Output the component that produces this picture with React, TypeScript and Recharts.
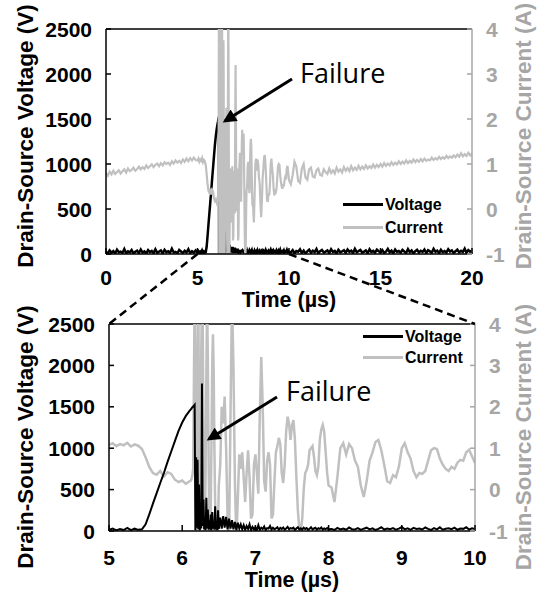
import { LineChart, Line, XAxis, YAxis, ReferenceLine, Legend } from 'recharts'

const FONT = '"Liberation Sans", Arial, Helvetica, sans-serif'
const VOLT_COLOR = '#000000'
const CURR_COLOR = '#c0c0c0'
const CURR_TEXT = '#a6a6a6'

// ---- waveform samples (time in µs, V, A) ----

// before turn-off, 0 - 4.9 µs
const timeA = [
  0, 0.1, 0.2, 0.3, 0.4, 0.5, 0.6, 0.7, 0.8, 0.9,
  1, 1.1, 1.2, 1.3, 1.4, 1.5, 1.6, 1.7, 1.8, 1.9,
  2, 2.1, 2.2, 2.3, 2.4, 2.5, 2.6, 2.7, 2.8, 2.9,
  3, 3.1, 3.2, 3.3, 3.4, 3.5, 3.6, 3.7, 3.8, 3.9,
  4, 4.1, 4.2, 4.3, 4.4, 4.5, 4.6, 4.7, 4.8, 4.9,
]
const voltA = [
  22, 8, 41, 15, 33, 5, 48, 19, 27, 12,
  55, 9, 30, 18, 44, 6, 25, 37, 11, 50,
  16, 29, 7, 43, 21, 34, 10, 52, 14, 26,
  39, 8, 47, 20, 31, 13, 58, 17, 24, 6,
  45, 28, 11, 36, 19, 53, 9, 32, 15, 40,
]
const currA = [
  0.8, 0.74, 0.83, 0.77, 0.85, 0.78, 0.82, 0.86, 0.79, 0.84,
  0.88, 0.81, 0.9, 0.84, 0.87, 0.92, 0.85, 0.89, 0.94, 0.88,
  0.93, 0.89, 0.97, 0.91, 0.95, 0.99, 0.93, 0.98, 1.01, 0.95,
  1.02, 0.97, 1.04, 1.0, 1.03, 0.98, 1.06, 1.01, 1.08, 1.03,
  1.07, 1.02, 1.1, 1.05, 1.12, 1.06, 1.13, 1.08, 1.14, 1.09,
]

// voltage ramp, 5.00 - 6.10 µs
const timeB = [
  5, 5.05, 5.1, 5.15, 5.2, 5.25, 5.3, 5.35, 5.4, 5.45,
  5.5, 5.55, 5.6, 5.65, 5.7, 5.75, 5.8, 5.85, 5.9, 5.95,
  6, 6.05, 6.1,
]
const voltB = [
  15, 30, 8, 25, 12, 38, 10, 28, 14, 20,
  80, 200, 330, 455, 580, 700, 835, 960, 1085, 1210,
  1310, 1390, 1450,
]
const currB = [
  1.08, 1.12, 1.05, 1.1, 1.07, 1.13, 1.04, 1.09, 1.06, 0.98,
  0.78, 0.55, 0.4, 0.36, 0.45, 0.32, 0.42, 0.38, 0.24, 0.18,
  0.22, 0.14, 0.2,
]

// failure, 6.12 - 6.50 µs
const timeC = [
  6.12, 6.13, 6.14, 6.15, 6.16, 6.17, 6.18, 6.19, 6.2, 6.21,
  6.22, 6.23, 6.24, 6.25, 6.26, 6.27, 6.28, 6.29, 6.3, 6.31,
  6.32, 6.33, 6.34, 6.35, 6.36, 6.37, 6.38, 6.39, 6.4, 6.41,
  6.42, 6.43, 6.44, 6.45, 6.46, 6.47, 6.48, 6.49, 6.5,
]
const voltC = [
  1470, 1485, 1495, 1505, 1515, 1525, 10, 890, 40, 860,
  20, 560, 10, 120, 30, 1780, 60, 380, 20, 150,
  10, 400, 30, 260, 15, 130, 20, 200, 10, 230,
  30, 110, 15, 300, 20, 120, 10, 250, 25,
]
const currC = [
  0.22, 0.28, 0.36, 0.5, 2.6, 4.8, 2.2, -1.3, 0.8, 3.6,
  4.8, 1.5, -1.3, -0.2, 3.2, 4.8, 4.2, 1.2, -0.8, -1.3,
  0.6, 2.8, 4.6, 3.2, 0.9, -0.9, -1.3, -0.6, 1.2, 3.0,
  3.75, 2.9, 1.0, -0.3, -0.9, -1.3, -1.3, -0.8, 0.1,
]

// ringing, 6.52 - 8.00 µs
const timeD = [
  6.52, 6.54, 6.56, 6.58, 6.6, 6.62, 6.64, 6.66, 6.68, 6.7,
  6.72, 6.74, 6.76, 6.78, 6.8, 6.82, 6.84, 6.86, 6.88, 6.9,
  6.92, 6.94, 6.96, 6.98, 7, 7.02, 7.04, 7.06, 7.08, 7.1,
  7.12, 7.14, 7.16, 7.18, 7.2, 7.22, 7.24, 7.26, 7.28, 7.3,
  7.32, 7.34, 7.36, 7.38, 7.4, 7.42, 7.44, 7.46, 7.48, 7.5,
  7.52, 7.54, 7.56, 7.58, 7.6, 7.62, 7.64, 7.66, 7.68, 7.7,
  7.72, 7.74, 7.76, 7.78, 7.8, 7.82, 7.84, 7.86, 7.88, 7.9,
  7.92, 7.94, 7.96, 7.98, 8,
]
const voltD = [
  160, 30, 180, 40, 170, 20, 150, 30, 130, 20,
  110, 15, 100, 30, 80, 20, 70, 15, 60, 25,
  80, 10, 50, 20, 45, 10, 70, 15, 40, 25,
  55, 12, 35, 30, 60, 18, 40, 22, 30, 45,
  15, 38, 25, 42, 18, 30, 50, 20, 35, 28,
  40, 12, 30, 45, 20, 32, 18, 40, 25, 35,
  15, 28, 45, 20, 30, 38, 16, 33, 25, 42,
  18, 30, 22, 36, 20,
]
const currD = [
  0.6, 2.0, 1.6, 2.25, 1.0, -0.7, -1.3, 1.8, 4.6, 3.0,
  0.2, -1.2, -0.2, 0.85, 0.5, 0.9, 0.3, -0.3, 0.4, 0.95,
  0.3, -0.7, -0.6, 0.6, 0.85, 0.4, -0.1, 1.8, 3.2, 2.0,
  0.2, -0.05, 0.7, 0.9, 0.6, -0.7, -0.6, 0.2, 0.9, 1.05,
  1.25, 1.1, 0.4, 0.16, 0.6, 1.4, 1.76, 1.6, 1.2, 1.55,
  1.68, 1.2, 0.3, -0.5, -0.95, -1.0, -0.7, 0.0, 0.4, 0.47,
  0.6, 0.95, 1.0, 1.05, 0.8, 0.45, 0.35, 0.55, 1.2, 1.45,
  1.56, 1.4, 0.9, 0.4, 0.1,
]

// decaying ringing, 8.04 - 10.00 µs
const timeE = [
  8.04, 8.08, 8.12, 8.16, 8.2, 8.24, 8.28, 8.32, 8.36, 8.4,
  8.44, 8.48, 8.52, 8.56, 8.6, 8.64, 8.68, 8.72, 8.76, 8.8,
  8.84, 8.88, 8.92, 8.96, 9, 9.04, 9.08, 9.12, 9.16, 9.2,
  9.24, 9.28, 9.32, 9.36, 9.4, 9.44, 9.48, 9.52, 9.56, 9.6,
  9.64, 9.68, 9.72, 9.76, 9.8, 9.84, 9.88, 9.92, 9.96, 10,
]
const voltE = [
  25, 12, 38, 20, 30, 15, 42, 22, 18, 35,
  14, 28, 40, 20, 33, 12, 26, 45, 18, 30,
  22, 36, 15, 28, 48, 20, 32, 14, 38, 24,
  30, 18, 42, 25, 12, 36, 20, 44, 16, 28,
  34, 22, 40, 15, 30, 26, 45, 18, 32, 24,
]
const currE = [
  0.05, -0.3, 0.3, 1.0, 1.12, 0.85, 1.1, 1.0, 0.7, 0.55,
  0.1, -0.18, 0.2, 0.7, 0.9, 1.15, 1.2, 0.95, 0.6, 0.2,
  0.16, 0.35, 0.3, 0.55, 1.0, 1.12, 0.9, 0.75, 0.45, 0.3,
  0.4, 0.38, 0.45, 0.7, 0.95, 1.0, 0.98, 0.75, 0.6, 0.5,
  0.45, 0.55, 0.5, 0.65, 0.72, 0.7, 0.9, 0.96, 0.8, 0.64,
]

// tail, 10.1 - 20.0 µs
const timeF = [
  10.1, 10.2, 10.3, 10.4, 10.5, 10.6, 10.7, 10.8, 10.9, 11,
  11.1, 11.2, 11.3, 11.4, 11.5, 11.6, 11.7, 11.8, 11.9, 12,
  12.1, 12.2, 12.3, 12.4, 12.5, 12.6, 12.7, 12.8, 12.9, 13,
  13.1, 13.2, 13.3, 13.4, 13.5, 13.6, 13.7, 13.8, 13.9, 14,
  14.1, 14.2, 14.3, 14.4, 14.5, 14.6, 14.7, 14.8, 14.9, 15,
  15.1, 15.2, 15.3, 15.4, 15.5, 15.6, 15.7, 15.8, 15.9, 16,
  16.1, 16.2, 16.3, 16.4, 16.5, 16.6, 16.7, 16.8, 16.9, 17,
  17.1, 17.2, 17.3, 17.4, 17.5, 17.6, 17.7, 17.8, 17.9, 18,
  18.1, 18.2, 18.3, 18.4, 18.5, 18.6, 18.7, 18.8, 18.9, 19,
  19.1, 19.2, 19.3, 19.4, 19.5, 19.6, 19.7, 19.8, 19.9, 20,
]
const voltF = [
  18, 42, 9, 33, 25, 51, 12, 38, 6, 29,
  47, 15, 36, 21, 55, 8, 31, 44, 17, 26,
  39, 11, 53, 23, 34, 7, 46, 19, 28, 41,
  13, 50, 24, 37, 10, 58, 20, 32, 45, 16,
  27, 40, 9, 52, 22, 35, 14, 48, 30, 18,
  43, 11, 26, 56, 19, 37, 8, 49, 24, 33,
  15, 45, 28, 12, 54, 21, 39, 6, 31, 47,
  17, 36, 23, 50, 10, 42, 29, 14, 57, 25,
  38, 9, 46, 20, 33, 16, 53, 27, 40, 12,
  30, 48, 18, 35, 22, 59, 13, 44, 26, 37,
]
const currF = [
  0.55, 0.75, 1.05, 0.95, 0.62, 0.58, 0.9, 1.0, 0.7, 0.65,
  0.88, 0.92, 0.72, 0.7, 0.86, 0.9, 0.76, 0.74, 0.88, 0.82,
  0.78, 0.9, 0.8, 0.86, 0.79, 0.92, 0.83, 0.88, 0.81, 0.93,
  0.85, 0.91, 0.84, 0.95, 0.86, 0.92, 0.87, 0.96, 0.88, 0.94,
  0.89, 0.97, 0.9, 0.95, 0.91, 0.99, 0.92, 0.98, 0.93, 1.0,
  0.94, 1.02, 0.96, 1.01, 0.97, 1.04, 0.98, 1.03, 0.99, 1.06,
  1.0, 1.05, 1.01, 1.08, 1.02, 1.07, 1.03, 1.1, 1.04, 1.09,
  1.05, 1.11, 1.06, 1.12, 1.07, 1.1, 1.08, 1.14, 1.09, 1.13,
  1.1, 1.16, 1.11, 1.15, 1.12, 1.18, 1.13, 1.17, 1.14, 1.19,
  1.15, 1.21, 1.16, 1.24, 1.17, 1.22, 1.18, 1.25, 1.19, 1.23,
]

// axis ticks
const voltTicks = [0, 500, 1000, 1500, 2000, 2500]
const currTicks = [-1, 0, 1, 2, 3, 4]
const fullTimeTicks = [0, 5, 10, 15, 20]
const zoomTimeTicks = [5, 6, 7, 8, 9, 10]
const legendOrder = ['Voltage', 'Current']

type Row = { t: number; v: number; i: number }

const segments: [number[], number[], number[]][] = [
  [timeA, voltA, currA],
  [timeB, voltB, currB],
  [timeC, voltC, currC],
  [timeD, voltD, currD],
  [timeE, voltE, currE],
  [timeF, voltF, currF],
]
const rows: Row[] = segments.flatMap(([ts, vs, is]) =>
  ts.map((t, k) => ({ t, v: vs[k], i: is[k] }))
)
const zoomRows = rows.filter((r) => r.t >= 5 && r.t <= 10)

// page layout (px)
const W = 543
const H = 593
const TOP_PLOT = { left: 106, right: 472, top: 29, bottom: 254 }
const BOT_PLOT = { left: 109, right: 475, top: 324, bottom: 531 }
const TOP_DIV = { top: 0, height: 300 }
const BOT_DIV = { top: 290, height: 303 }

const tickFont = { fontFamily: FONT, fontSize: 21, fontWeight: 700 }

type Plot = typeof TOP_PLOT

interface PanelProps {
  data: Row[]
  plot: Plot
  div: { top: number; height: number }
  xDomain: [number, number]
  xTicks: number[]
  tickGap: number
  legendLeft: number
  legendTop: number
  legendRow: number
  voltWidth: number
  currWidth: number
  currentOnTop: boolean
}

function LegendBox({ payload, rowH }: { payload?: any[]; rowH: number }) {
  const items = [...(payload ?? [])].sort(
    (a, b) => legendOrder.indexOf(a.value) - legendOrder.indexOf(b.value)
  )
  return (
    <div style={{ fontFamily: FONT, fontSize: 16, fontWeight: 700, color: '#000' }}>
      {items.map((it) => (
        <div key={it.value} style={{ display: 'flex', alignItems: 'center', height: rowH }}>
          <span
            style={{
              display: 'inline-block',
              width: 40,
              height: it.value === 'Voltage' ? 3 : 2.5,
              background: it.color,
              marginRight: 2,
            }}
          />
          <span>{it.value}</span>
        </div>
      ))}
    </div>
  )
}

function Panel({
  data, plot, div, xDomain, xTicks, tickGap,
  legendLeft, legendTop, legendRow, voltWidth, currWidth, currentOnTop,
}: PanelProps) {
  const localTop = plot.top - div.top
  const localBottom = plot.bottom - div.top

  const xTick = ({ x, payload }: any) => (
    <g>
      <line x1={x} x2={x} y1={localBottom} y2={localBottom - 6} stroke="#000" strokeWidth={1.5} />
      <text x={x} y={localBottom + tickGap} textAnchor="middle" dominantBaseline="central" fill="#000" style={tickFont}>
        {payload.value}
      </text>
    </g>
  )
  const vTick = ({ y, payload }: any) => (
    <g>
      <line x1={plot.left} x2={plot.left + 5} y1={y} y2={y} stroke="#000" strokeWidth={1.5} />
      <text x={plot.left - 14} y={y} textAnchor="end" dominantBaseline="central" fill="#000" style={tickFont}>
        {payload.value}
      </text>
    </g>
  )
  const iTick = ({ y, payload }: any) => (
    <g>
      <line x1={plot.right - 5} x2={plot.right} y1={y} y2={y} stroke={CURR_TEXT} strokeWidth={1.5} />
      <text x={plot.right + 14} y={y} textAnchor="start" dominantBaseline="central" fill={CURR_TEXT} style={tickFont}>
        {payload.value}
      </text>
    </g>
  )

  const currentLine = (
    <Line
      key="current"
      yAxisId="i"
      dataKey="i"
      name="Current"
      type="linear"
      stroke={CURR_COLOR}
      strokeWidth={currWidth}
      dot={false}
      isAnimationActive={false}
    />
  )
  const voltageLine = (
    <Line
      key="voltage"
      yAxisId="v"
      dataKey="v"
      name="Voltage"
      type="linear"
      stroke={VOLT_COLOR}
      strokeWidth={voltWidth}
      dot={false}
      isAnimationActive={false}
    />
  )

  return (
    <div style={{ position: 'absolute', left: 0, top: div.top, width: W, height: div.height }}>
      <LineChart
        width={W}
        height={div.height}
        data={data}
        margin={{ top: localTop, right: 0, bottom: 0, left: 0 }}
      >
        <XAxis
          dataKey="t"
          type="number"
          domain={xDomain}
          ticks={xTicks}
          allowDataOverflow
          height={div.height - localBottom}
          axisLine={{ stroke: '#000', strokeWidth: 1.5 }}
          tickLine={false}
          tick={xTick}
          interval={0}
        />
        <YAxis
          yAxisId="v"
          orientation="left"
          domain={[0, 2500]}
          ticks={voltTicks}
          allowDataOverflow
          width={plot.left}
          axisLine={{ stroke: '#000', strokeWidth: 1.5 }}
          tickLine={false}
          tick={vTick}
          interval={0}
        />
        <YAxis
          yAxisId="i"
          orientation="right"
          domain={[-1, 4]}
          ticks={currTicks}
          allowDataOverflow
          width={W - plot.right}
          axisLine={{ stroke: CURR_TEXT, strokeWidth: 1.5 }}
          tickLine={false}
          tick={iTick}
          interval={0}
        />
        <ReferenceLine yAxisId="v" y={2500} stroke="#000" strokeWidth={1.5} />
        {currentOnTop ? [voltageLine, currentLine] : [currentLine, voltageLine]}
        <Legend
          layout="horizontal"
          verticalAlign="middle"
          align="center"
          wrapperStyle={{ left: legendLeft, top: legendTop - div.top, width: 130, height: legendRow * 2 }}
          content={(p: any) => <LegendBox payload={p.payload} rowH={legendRow} />}
        />
      </LineChart>
    </div>
  )
}

const titleStyle = { fontFamily: FONT, fontSize: 21.5, fontWeight: 700 }
const sideTitleStyle = { fontFamily: FONT, fontSize: 22.5, fontWeight: 700 }
const calloutStyle = { fontFamily: '"Open Sans", "Noto Sans", sans-serif', fontSize: 27 }

function Overlay() {
  const topX = (t: number) => TOP_PLOT.left + (t / 20) * (TOP_PLOT.right - TOP_PLOT.left)
  const topMid = 136
  const botMid = 437
  return (
    <svg width={W} height={H} style={{ position: 'absolute', left: 0, top: 0, pointerEvents: 'none' }}>
      <defs>
        <marker id="head" viewBox="0 0 10 10" refX="8" refY="5" markerWidth="5" markerHeight="4.5" orient="auto">
          <path d="M0,0 L10,5 L0,10 z" fill="#000" />
        </marker>
      </defs>

      {/* zoom guides */}
      <line x1={topX(5)} y1={TOP_PLOT.bottom} x2={BOT_PLOT.left} y2={BOT_PLOT.top} stroke="#000" strokeWidth={2.5} strokeDasharray="8 5" />
      <line x1={topX(10)} y1={TOP_PLOT.bottom} x2={BOT_PLOT.right} y2={BOT_PLOT.top} stroke="#000" strokeWidth={2.5} strokeDasharray="8 5" />

      {/* failure callouts */}
      <text x={300} y={72} dominantBaseline="central" style={calloutStyle}>Failure</text>
      <line x1={292} y1={79} x2={225} y2={121} stroke="#000" strokeWidth={3} markerEnd="url(#head)" />
      <text x={286} y={390} dominantBaseline="central" style={calloutStyle}>Failure</text>
      <line x1={277} y1={397} x2={209} y2={439} stroke="#000" strokeWidth={3} markerEnd="url(#head)" />

      {/* axis titles */}
      <text x={(TOP_PLOT.left + TOP_PLOT.right) / 2} y={300} textAnchor="middle" dominantBaseline="central" fill="#000" style={titleStyle}>Time (µs)</text>
      <text x={(BOT_PLOT.left + BOT_PLOT.right) / 2} y={580} textAnchor="middle" dominantBaseline="central" fill="#000" style={titleStyle}>Time (µs)</text>
      <text transform={`translate(25 ${topMid}) rotate(-90)`} textAnchor="middle" dominantBaseline="central" fill="#000" style={sideTitleStyle}>Drain-Source Voltage (V)</text>
      <text transform={`translate(25 ${botMid}) rotate(-90)`} textAnchor="middle" dominantBaseline="central" fill="#000" style={sideTitleStyle}>Drain-Source Voltage (V)</text>
      <text transform={`translate(523 ${topMid}) rotate(-90)`} textAnchor="middle" dominantBaseline="central" fill={CURR_TEXT} style={sideTitleStyle}>Drain-Source Current (A)</text>
      <text transform={`translate(523 ${botMid}) rotate(-90)`} textAnchor="middle" dominantBaseline="central" fill={CURR_TEXT} style={sideTitleStyle}>Drain-Source Current (A)</text>
    </svg>
  )
}

export default function App() {
  return (
    <div style={{ position: 'absolute', left: 0, top: 0, width: W, height: H, background: '#fff', overflow: 'hidden' }}>
      <Panel
        data={rows}
        plot={TOP_PLOT}
        div={TOP_DIV}
        xDomain={[0, 20]}
        xTicks={fullTimeTicks}
        tickGap={23}
        legendLeft={343}
        legendTop={193}
        legendRow={23}
        voltWidth={2.5}
        currWidth={2.2}
        currentOnTop
      />
      <Panel
        data={zoomRows}
        plot={BOT_PLOT}
        div={BOT_DIV}
        xDomain={[5, 10]}
        xTicks={zoomTimeTicks}
        tickGap={26}
        legendLeft={363}
        legendTop={326}
        legendRow={21}
        voltWidth={2}
        currWidth={2.5}
        currentOnTop={false}
      />
      <Overlay />
    </div>
  )
}
